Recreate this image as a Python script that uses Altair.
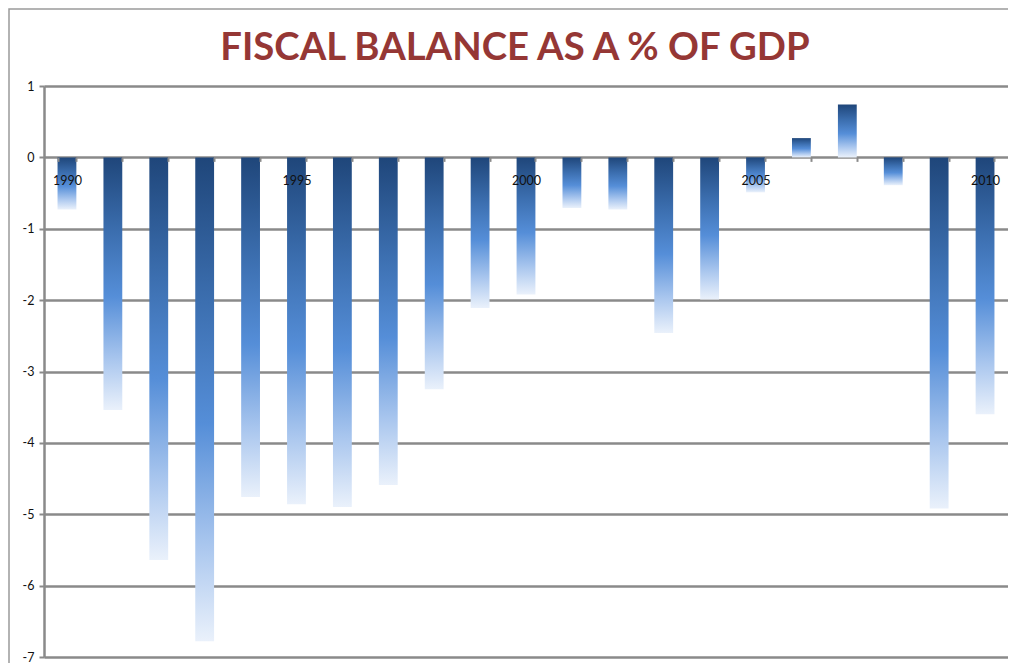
import altair as alt
import pandas as pd

years = list(range(1990, 2011))
balance = [-0.73, -3.54, -5.64, -6.78, -4.76, -4.86, -4.90, -4.59, -3.25, -2.11,
           -1.92, -0.71, -0.73, -2.46, -1.99, -0.49, 0.27, 0.74, -0.39, -4.92, -3.60]
y_ticks = [1, 0, -1, -2, -3, -4, -5, -6, -7]

df = pd.DataFrame({"year": years, "balance": balance})

W, H = 964, 571
PAD_L, PAD_T, PAD_R, PAD_B = 36, 78, 0, 6

gradient = alt.Gradient(
    gradient="linear",
    stops=[
        alt.GradientStop(color="#1F467A", offset=0),
        alt.GradientStop(color="#3C6FB0", offset=0.3),
        alt.GradientStop(color="#558ED8", offset=0.55),
        alt.GradientStop(color="#A9C6EE", offset=0.8),
        alt.GradientStop(color="#EAF1FB", offset=1),
    ],
    x1=0, x2=0, y1=0, y2=1,
)

bars = alt.Chart(df).mark_bar(color=gradient).encode(
    x=alt.X(
        "year:O",
        scale=alt.Scale(paddingInner=0.59, paddingOuter=0.295),
        axis=alt.Axis(
            title=None,
            orient="bottom",
            offset=-(H * 7 / 8),
            labelExpr="toNumber(datum.value) % 5 == 0 ? datum.label : ''",
            labelAngle=0,
            labelFont="Lato",
            labelFontSize=12.5,
            labelColor="#111111",
            labelPadding=13,
            tickBand="extent",
            tickSize=4,
            tickColor="#8a8a8a",
            tickWidth=2,
            domain=False,
            grid=False,
            zindex=1,
        ),
    ),
    y=alt.Y(
        "balance:Q",
        scale=alt.Scale(domain=[-7, 1], nice=False, zero=False),
        axis=alt.Axis(
            title=None,
            values=y_ticks,
            labelExpr="datum.value",
            labelFont="Lato",
            labelFontSize=12.5,
            labelColor="#111111",
            labelPadding=5,
            tickSize=5,
            tickColor="#8a8a8a",
            tickWidth=2,
            domainColor="#8a8a8a",
            domainWidth=2.5,
            grid=True,
            gridColor="#8a8a8a",
            gridWidth=2.5,
        ),
    ),
)

border = alt.Chart(pd.DataFrame({"k": [0]})).mark_rect(
    fill=None, stroke="#9a9a9a", strokeWidth=1.5, clip=False
).encode(
    x=alt.value(-PAD_L + 1),
    x2=alt.value(W + 20),
    y=alt.value(-PAD_T + 1),
    y2=alt.value(H + PAD_B + 20),
)

chart = alt.layer(border, bars).properties(
    width=W,
    height=H,
    autosize=alt.AutoSizeParams(type="none"),
    padding={"left": PAD_L, "top": PAD_T, "right": PAD_R, "bottom": PAD_B},
    title=alt.TitleParams(
        "FISCAL BALANCE AS A % OF GDP",
        font="Lato",
        fontSize=38.3,
        fontWeight="bold",
        color="#953735",
        anchor="middle",
        frame="group",
        dx=-11,
        offset=-90,
        baseline="alphabetic",
    ),
).configure_view(stroke=None).configure(background="white")

chart.save("out.html", embed_options={"renderer": "svg", "actions": False})
